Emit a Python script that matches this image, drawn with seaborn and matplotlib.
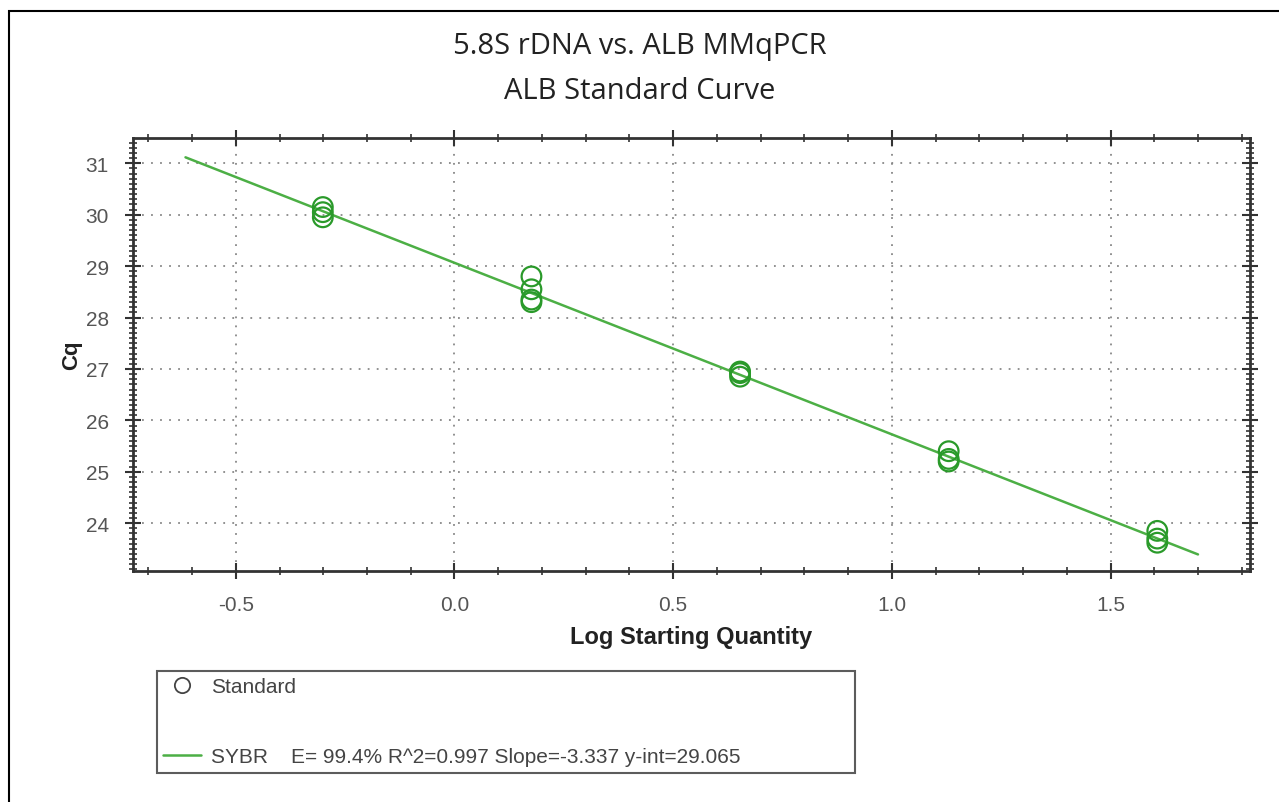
import numpy as np
import pandas as pd
import matplotlib
matplotlib.use("Agg")
import matplotlib.pyplot as plt
import seaborn as sns
from matplotlib.lines import Line2D
from matplotlib.patches import Rectangle
from matplotlib.ticker import MultipleLocator, FormatStrFormatter

# standards (log starting quantity) and replicate Cq values
log_qty = [-0.301, -0.301, -0.301,
           0.176, 0.176, 0.176, 0.176,
           0.653, 0.653, 0.653,
           1.130, 1.130, 1.130,
           1.607, 1.607, 1.607]
cq = [30.15, 30.05, 29.95,
      28.80, 28.55, 28.35, 28.30,
      26.92, 26.85, 26.95,
      25.40, 25.25, 25.20,
      23.85, 23.70, 23.62]

slope = -3.337
y_int = 29.065
fit_x = [-0.615, 1.70]
fit_label = "SYBR    E= 99.4% R^2=0.997 Slope=-3.337 y-int=29.065"

sns.set_style("white")
plt.rcParams["font.family"] = ["Liberation Sans", "DejaVu Sans"]

fig = plt.figure(figsize=(12.79, 8.03), dpi=100)
ax = fig.add_axes([0.104, 0.2877, 0.873, 0.539])

df = pd.DataFrame({"x": log_qty, "y": cq})
fit = pd.DataFrame({"x": fit_x, "y": [slope * v + y_int for v in fit_x]})

sns.lineplot(data=fit, x="x", y="y", ax=ax, color="#4caf45", lw=1.8, zorder=2)
sns.scatterplot(data=df, x="x", y="y", ax=ax, s=200, marker="o",
                facecolor="none", edgecolor="#2a9a2a", linewidth=1.6, zorder=3)

ax.set_xlim(-0.735, 1.818)
ax.set_ylim(23.07, 31.49)
ax.xaxis.set_major_locator(MultipleLocator(0.5))
ax.xaxis.set_minor_locator(MultipleLocator(0.1))
ax.yaxis.set_major_locator(MultipleLocator(1))
ax.yaxis.set_minor_locator(MultipleLocator(0.1))
ax.xaxis.set_major_formatter(FormatStrFormatter("%.1f"))

ax.grid(True, which="major", color="#888888", linestyle=(0, (1, 4)), lw=1.3)
for s in ax.spines.values():
    s.set_color("#333333")
    s.set_linewidth(2)

ax.tick_params(which="both", left=True, bottom=True, top=True, right=True,
               color="#333333")
ax.tick_params(which="major", direction="inout", length=11, width=1.5,
               labelsize=15, labelcolor="#555555")
ax.tick_params(which="minor", direction="inout", length=6, width=1.2)
ax.tick_params(axis="x", which="major", pad=12)
ax.tick_params(axis="y", which="major", pad=12)

ax.set_xlabel("Log Starting Quantity", fontsize=17, fontweight="bold",
              color="#222222", labelpad=8)
ax.set_ylabel("Cq", fontsize=16, fontweight="bold", color="#222222", labelpad=2)

fig.text(0.5, 0.942, "5.8S rDNA vs. ALB MMqPCR", ha="center", va="center",
         fontsize=21, family="Open Sans", color="#222222")
fig.text(0.5, 0.886, "ALB Standard Curve", ha="center", va="center",
         fontsize=21, family="Open Sans", color="#222222")

handles = [Line2D([], [], marker="o", ls="none", mfc="none", mec="#444444",
                  markersize=11, mew=1.3),
           Line2D([], [], color="#4caf45", lw=1.8)]
leg = fig.legend(handles, ["Standard", fit_label], loc="upper left",
                 bbox_to_anchor=(0.1228, 0.031, 0.546, 0.132), mode="expand",
                 fontsize=15, labelspacing=2.45, handlelength=1.8,
                 handletextpad=0.5, frameon=True, fancybox=False,
                 borderpad=0.3, borderaxespad=0, labelcolor="#444444")
leg.get_frame().set_edgecolor("#333333")
leg.get_frame().set_linewidth(1.5)

fig.patches.append(Rectangle((0.007, -0.01), 1.1, 0.995, transform=fig.transFigure,
                             fill=False, edgecolor="black", lw=1.5))

fig.savefig("out.png", dpi=100)
